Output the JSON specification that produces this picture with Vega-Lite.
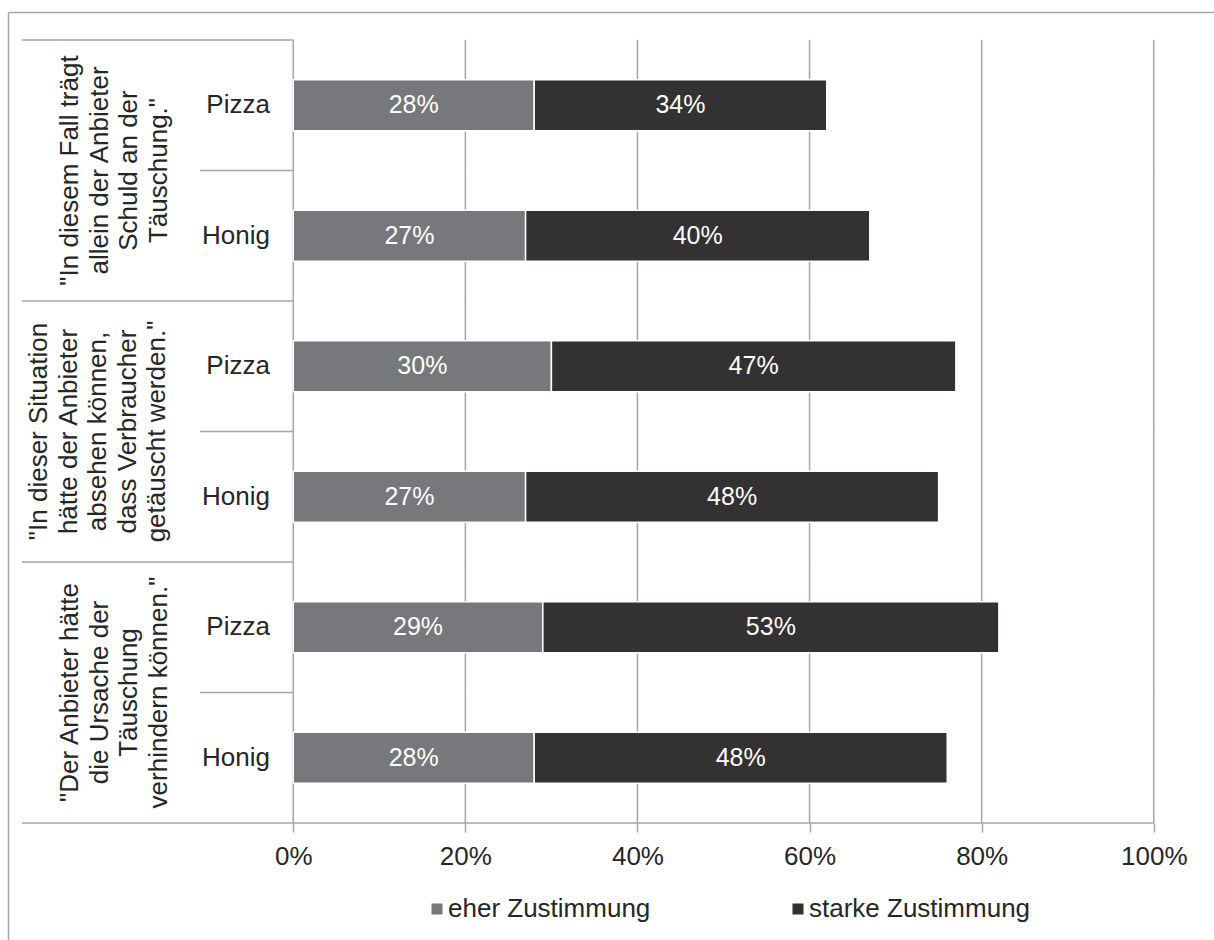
{
  "$schema": "https://vega.github.io/schema/vega-lite/v6.json",
  "width": 1206,
  "height": 928,
  "autosize": {"type": "none"},
  "padding": {"left": 8, "top": 12, "right": 0, "bottom": 0},
  "background": "white",
  "config": {
    "view": {"stroke": null},
    "font": "Liberation Sans",
    "axisY": {
      "domain": true,
      "domainColor": "#a6a6a6",
      "domainWidth": 1.5,
      "labels": false,
      "ticks": false,
      "grid": false
    }
  },
  "data": {
    "values": [
      {"gruppe": 1, "aussage": "\"In diesem Fall trägt\nallein der Anbieter\nSchuld an der\nTäuschung.\"", "produkt": "Pizza", "typ": "eher Zustimmung", "wert": 28},
      {"gruppe": 1, "aussage": "\"In diesem Fall trägt\nallein der Anbieter\nSchuld an der\nTäuschung.\"", "produkt": "Pizza", "typ": "starke Zustimmung", "wert": 34},
      {"gruppe": 1, "aussage": "\"In diesem Fall trägt\nallein der Anbieter\nSchuld an der\nTäuschung.\"", "produkt": "Honig", "typ": "eher Zustimmung", "wert": 27},
      {"gruppe": 1, "aussage": "\"In diesem Fall trägt\nallein der Anbieter\nSchuld an der\nTäuschung.\"", "produkt": "Honig", "typ": "starke Zustimmung", "wert": 40},
      {"gruppe": 2, "aussage": "\"In dieser Situation\nhätte der Anbieter\nabsehen können,\ndass Verbraucher\ngetäuscht werden.\"", "produkt": "Pizza", "typ": "eher Zustimmung", "wert": 30},
      {"gruppe": 2, "aussage": "\"In dieser Situation\nhätte der Anbieter\nabsehen können,\ndass Verbraucher\ngetäuscht werden.\"", "produkt": "Pizza", "typ": "starke Zustimmung", "wert": 47},
      {"gruppe": 2, "aussage": "\"In dieser Situation\nhätte der Anbieter\nabsehen können,\ndass Verbraucher\ngetäuscht werden.\"", "produkt": "Honig", "typ": "eher Zustimmung", "wert": 27},
      {"gruppe": 2, "aussage": "\"In dieser Situation\nhätte der Anbieter\nabsehen können,\ndass Verbraucher\ngetäuscht werden.\"", "produkt": "Honig", "typ": "starke Zustimmung", "wert": 48},
      {"gruppe": 3, "aussage": "\"Der Anbieter hätte\ndie Ursache der\nTäuschung\nverhindern können.\"", "produkt": "Pizza", "typ": "eher Zustimmung", "wert": 29},
      {"gruppe": 3, "aussage": "\"Der Anbieter hätte\ndie Ursache der\nTäuschung\nverhindern können.\"", "produkt": "Pizza", "typ": "starke Zustimmung", "wert": 53},
      {"gruppe": 3, "aussage": "\"Der Anbieter hätte\ndie Ursache der\nTäuschung\nverhindern können.\"", "produkt": "Honig", "typ": "eher Zustimmung", "wert": 28},
      {"gruppe": 3, "aussage": "\"Der Anbieter hätte\ndie Ursache der\nTäuschung\nverhindern können.\"", "produkt": "Honig", "typ": "starke Zustimmung", "wert": 48}
    ]
  },
  "transform": [
    {"calculate": "datum.gruppe + '-' + datum.produkt", "as": "zeile"},
    {"calculate": "datum.wert + '%'", "as": "beschriftung"},
    {"stack": "wert", "groupby": ["zeile"], "sort": [{"field": "typ", "order": "ascending"}], "as": ["x0", "x1"]},
    {"calculate": "(datum.x0 + datum.x1) / 2", "as": "xmitte"}
  ],
  "resolve": {"axis": {"x": "independent"}},
  "layer": [
    {
      "transform": [{"filter": "datum.typ === 'eher Zustimmung'"}],
      "mark": {"type": "tick", "color": "#a6a6a6", "thickness": 1.5, "size": 131, "opacity": 1},
      "encoding": {
        "x": {"datum": 0, "axis": {"orient": "top", "domain": true, "domainColor": "#a6a6a6", "domainWidth": 1.5, "labels": false, "ticks": false, "grid": false, "title": null, "offset": 0}},
        "y": {"field": "zeile", "type": "nominal", "title": null}
      }
    },
    {
      "transform": [{"filter": "datum.typ === 'eher Zustimmung'"}],
      "mark": {"type": "tick", "color": "#a6a6a6", "thickness": 1.5, "size": 131, "opacity": 1},
      "encoding": {"x": {"datum": 20, "axis": null}, "y": {"field": "zeile", "type": "nominal", "title": null}}
    },
    {
      "transform": [{"filter": "datum.typ === 'eher Zustimmung'"}],
      "mark": {"type": "tick", "color": "#a6a6a6", "thickness": 1.5, "size": 131, "opacity": 1},
      "encoding": {"x": {"datum": 40, "axis": null}, "y": {"field": "zeile", "type": "nominal", "title": null}}
    },
    {
      "transform": [{"filter": "datum.typ === 'eher Zustimmung'"}],
      "mark": {"type": "tick", "color": "#a6a6a6", "thickness": 1.5, "size": 131, "opacity": 1},
      "encoding": {"x": {"datum": 60, "axis": null}, "y": {"field": "zeile", "type": "nominal", "title": null}}
    },
    {
      "transform": [{"filter": "datum.typ === 'eher Zustimmung'"}],
      "mark": {"type": "tick", "color": "#a6a6a6", "thickness": 1.5, "size": 131, "opacity": 1},
      "encoding": {"x": {"datum": 80, "axis": null}, "y": {"field": "zeile", "type": "nominal", "title": null}}
    },
    {
      "transform": [{"filter": "datum.typ === 'eher Zustimmung'"}],
      "mark": {"type": "tick", "color": "#a6a6a6", "thickness": 1.5, "size": 131, "opacity": 1},
      "encoding": {"x": {"datum": 100, "axis": null}, "y": {"field": "zeile", "type": "nominal", "title": null}}
    },
    {
      "mark": {"type": "bar", "height": {"band": 0.39}, "stroke": "white", "strokeWidth": 1.5},
      "encoding": {
        "x": {
          "field": "x0",
          "type": "quantitative",
          "scale": {"domain": [-33.15, 107.0], "nice": false, "zero": false},
          "axis": {
            "orient": "bottom",
            "offset": -117,
            "values": [0, 20, 40, 60, 80, 100],
            "labelExpr": "datum.value + '%'",
            "domain": false,
            "grid": false,
            "ticks": true,
            "tickSize": 9,
            "tickColor": "#a6a6a6",
            "tickWidth": 1.5,
            "labelFontSize": 26,
            "labelFont": "Liberation Sans",
            "labelColor": "#262626",
            "labelPadding": 11,
            "title": null
          }
        },
        "x2": {"field": "x1"},
        "y": {
          "field": "zeile",
          "type": "nominal",
          "title": null,
          "scale": {
            "domain": ["1-Pizza", "1-Honig", "2-Pizza", "2-Honig", "3-Pizza", "3-Honig"],
            "paddingInner": 0,
            "paddingOuter": 0.5556,
            "align": 0.1931,
            "round": false
          }
        },
        "color": {
          "field": "typ",
          "type": "nominal",
          "scale": {"domain": ["eher Zustimmung", "starke Zustimmung"], "range": ["#77787b", "#333132"]},
          "legend": {
            "orient": "none",
            "legendX": 416,
            "legendY": 884,
            "direction": "horizontal",
            "title": null,
            "symbolType": "square",
            "symbolSize": 121,
            "symbolStrokeWidth": 0,
            "labelFontSize": 26,
            "labelFont": "Liberation Sans",
            "labelColor": "#262626",
            "labelLimit": 0,
            "labelOffset": -2,
            "columnPadding": 134
          }
        }
      }
    },
    {
      "mark": {"type": "text", "color": "white", "fontSize": 25, "align": "center", "baseline": "middle"},
      "encoding": {
        "x": {"field": "xmitte", "type": "quantitative", "axis": null},
        "y": {"field": "zeile", "type": "nominal", "title": null},
        "text": {"field": "beschriftung"}
      }
    },
    {
      "transform": [{"filter": "datum.typ === 'eher Zustimmung' && datum.produkt === 'Pizza'"}],
      "mark": {"type": "rule", "color": "#a6a6a6", "strokeWidth": 1.5},
      "encoding": {
        "x": {"datum": -31.53, "axis": null},
        "x2": {"datum": 0},
        "y": {"field": "zeile", "type": "nominal", "bandPosition": 0, "title": null}
      }
    },
    {
      "transform": [{"filter": "datum.typ === 'eher Zustimmung' && datum.produkt === 'Honig'"}],
      "mark": {"type": "rule", "color": "#a6a6a6", "strokeWidth": 1.5},
      "encoding": {
        "x": {"datum": -10.84, "axis": null},
        "x2": {"datum": 0},
        "y": {"field": "zeile", "type": "nominal", "bandPosition": 0, "title": null}
      }
    },
    {
      "transform": [{"filter": "datum.typ === 'eher Zustimmung' && datum.zeile === '3-Honig'"}],
      "mark": {"type": "rule", "color": "#a6a6a6", "strokeWidth": 1.5},
      "encoding": {
        "x": {"datum": -31.53, "axis": null},
        "x2": {"datum": 100},
        "y": {"field": "zeile", "type": "nominal", "bandPosition": 1, "title": null}
      }
    },
    {
      "transform": [{"filter": "datum.typ === 'eher Zustimmung'"}],
      "mark": {"type": "text", "color": "#262626", "fontSize": 26, "align": "right", "baseline": "middle"},
      "encoding": {
        "x": {"datum": -2.71, "axis": null},
        "y": {"field": "zeile", "type": "nominal", "title": null},
        "text": {"field": "produkt"}
      }
    },
    {
      "transform": [{"filter": "datum.typ === 'eher Zustimmung' && datum.produkt === 'Honig' && datum.gruppe !== 2"}],
      "mark": {"type": "text", "color": "#262626", "fontSize": 26, "align": "center", "baseline": "alphabetic", "angle": 270, "lineBreak": "\n", "lineHeight": 29.5},
      "encoding": {
        "x": {"datum": -24.96, "axis": null},
        "y": {"field": "zeile", "type": "nominal", "bandPosition": 0, "title": null},
        "text": {"field": "aussage"}
      }
    },
    {
      "transform": [{"filter": "datum.typ === 'eher Zustimmung' && datum.produkt === 'Honig' && datum.gruppe === 2"}],
      "mark": {"type": "text", "color": "#262626", "fontSize": 26, "align": "center", "baseline": "alphabetic", "angle": 270, "lineBreak": "\n", "lineHeight": 29.5},
      "encoding": {
        "x": {"datum": -28.56, "axis": null},
        "y": {"field": "zeile", "type": "nominal", "bandPosition": 0, "title": null},
        "text": {"field": "aussage"}
      }
    }
  ]
}
